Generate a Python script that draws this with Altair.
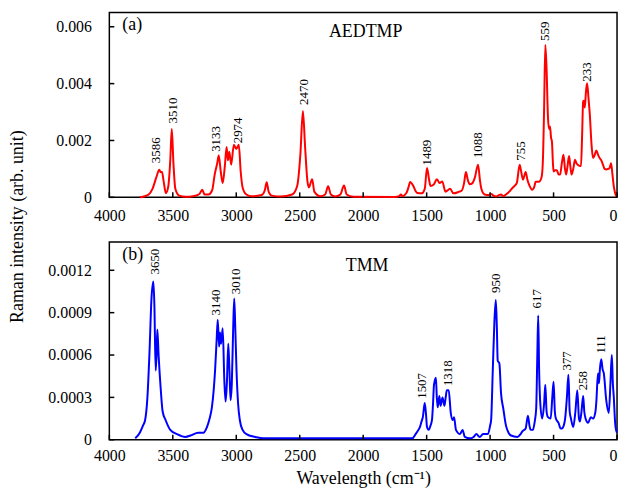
import altair as alt
import pandas as pd

FONT = "Liberation Serif"

# ---------- AEDTMP (a) ----------
A_WN = [3760, 3730, 3690, 3660, 3630, 3606, 3596, 3586, 3570, 3555, 3535, 3520, 3508, 3495, 3480, 3450, 3400,
        3330, 3290, 3268, 3250, 3220, 3190, 3170, 3150, 3138, 3122, 3107, 3090, 3076, 3066, 3055, 3040, 3019,
        3000, 2980, 2965, 2950, 2920, 2880, 2800, 2775, 2760, 2745, 2720, 2650, 2560, 2520, 2495, 2475, 2458,
        2440, 2428, 2402, 2385, 2340, 2300, 2276, 2255, 2220, 2180, 2151, 2130, 2080, 1750, 1717, 1703, 1690,
        1660, 1640, 1631, 1605, 1590, 1574, 1540, 1515, 1497, 1480, 1470, 1444, 1419, 1398, 1377, 1352, 1315,
        1289, 1243, 1225, 1205, 1191, 1175, 1160, 1139, 1120, 1095, 1080, 1069, 1043, 1010, 992, 970, 953, 930,
        914, 895, 875, 849, 830, 810, 790, 767, 755, 741, 720, 705, 694, 668, 650, 642, 616, 595, 585, 575, 565,
        555, 544, 535, 528, 520, 513, 505, 500, 488, 474, 460, 448, 435, 422, 410, 401, 390, 378, 368, 358, 345,
        331, 320, 310, 284, 275, 267, 260, 254, 245, 236, 225, 215, 200, 189, 175, 163, 150, 137, 124, 111, 98,
        85, 70, 59, 47, 36, 26, 15, 5]
A_INT = [0.0, 0.00003, 0.0001, 0.0003, 0.0007, 0.00097, 0.00088, 0.0009, 0.0005, 0.00015, 0.0004, 0.0013, 0.0024,
         0.0012, 0.0003, 0.00006, 0.00002, 0.00005, 0.00012, 0.00027, 0.0001, 0.0001, 0.00025, 0.0008, 0.0012,
         0.00147, 0.0009, 0.0005, 0.0011, 0.00177, 0.0013, 0.0016, 0.00115, 0.00185, 0.0017, 0.00185, 0.0009,
         0.00035, 0.0001, 0.00004, 0.00008, 0.00025, 0.00053, 0.0002, 0.00006, 0.00003, 0.0001, 0.0004, 0.0015,
         0.00304, 0.0018, 0.0006, 0.00035, 0.00064, 0.0002, 0.00004, 0.0001, 0.00039, 0.0001, 0.00003, 0.0001,
         0.00042, 0.0001, 0.00002, 0.00001, 0.00004, 0.0001, 0.00004, 0.00015, 0.0004, 0.00054, 0.0004, 0.00025,
         0.00015, 0.00014, 0.0003, 0.00103, 0.0006, 0.0004, 0.00045, 0.00064, 0.0005, 0.00056, 0.0002, 0.0003,
         0.00014, 0.0002, 0.00023, 0.0005, 0.00089, 0.0006, 0.00046, 0.0005, 0.0007, 0.00115, 0.0006, 0.0003,
         0.0001, 0.00008, 0.00012, 0.00005, 0.00003, 0.00008, 0.0001, 0.00004, 0.0001, 0.0002, 0.0003, 0.00039,
         0.0005, 0.00115, 0.0009, 0.00062, 0.00089, 0.0006, 0.00046, 0.00027, 0.0004, 0.00055, 0.00055, 0.0007,
         0.0012, 0.003, 0.00536, 0.0045, 0.0028, 0.0024, 0.00249, 0.0021, 0.00196, 0.0012, 0.00091, 0.00095,
         0.00095, 0.0008, 0.0008, 0.0012, 0.0015, 0.001, 0.0008, 0.0011, 0.00145, 0.0011, 0.0008, 0.001, 0.00132,
         0.0012, 0.00115, 0.0011, 0.0022, 0.00337, 0.0034, 0.00316, 0.0037, 0.00401, 0.0035, 0.00295, 0.0018,
         0.00138, 0.0015, 0.00165, 0.0015, 0.00138, 0.0013, 0.00115, 0.001, 0.00098, 0.001, 0.00103, 0.0012,
         0.0008, 0.0004, 0.00015, 0.00003]

A_LAB = ["3586", "3510", "3133", "2974", "2470", "1489", "1088", "755", "559", "233"]
A_LAB_X = [3632, 3495, 3159, 2988, 2470, 1497, 1095, 756, 565, 238]
A_LAB_Y = [0.0012, 0.0026, 0.0016, 0.0019, 0.00325, 0.00112, 0.00138, 0.00129, 0.0055, 0.00407]

# ---------- TMM (b) ----------
B_WN = [3796, 3760, 3735, 3718, 3700, 3684, 3668, 3653, 3645, 3635, 3628, 3622, 3612, 3596, 3580, 3557, 3520,
        3466, 3400, 3361, 3300, 3260, 3231, 3210, 3192, 3178, 3167, 3155, 3146, 3135, 3128, 3120, 3107, 3094,
        3084, 3074, 3063, 3054, 3045, 3035, 3024, 3016, 3008, 2998, 2985, 2972, 2950, 2920, 2850, 2790, 1650,
        1613, 1587, 1565, 1553, 1540, 1530, 1515, 1505, 1497, 1484, 1470, 1458, 1450, 1442, 1427, 1420, 1413,
        1400, 1390, 1375, 1360, 1350, 1341, 1326, 1310, 1295, 1284, 1269, 1237, 1217, 1199, 1160, 1130, 1108,
        1082, 1056, 1030, 1017, 1000, 992, 979, 966, 955, 947, 940, 927, 914, 896, 875, 855, 836, 785, 760, 746,
        720, 702, 690, 681, 663, 650, 637, 628, 621, 614, 606, 590, 575, 565, 555, 544, 523, 510, 500, 490, 482,
        461, 445, 435, 420, 409, 395, 383, 373, 363, 345, 328, 313, 300, 292, 280, 267, 258, 248, 228, 207, 189,
        170, 163, 150, 142, 135, 124, 114, 104, 85, 65, 52, 41, 33, 26, 15, 8, 0]
B_INT = [0.00001, 0.00005, 0.0001, 0.00014, 0.0003, 0.00061, 0.001, 0.00112, 0.00095, 0.00049, 0.0006, 0.00078,
         0.0006, 0.00037, 0.0002, 0.00014, 0.00007, 0.00004, 0.00002, 0.00003, 0.00005, 0.00005, 0.00009, 0.00015,
         0.00023, 0.00035, 0.00049, 0.0007, 0.00085, 0.00066, 0.00076, 0.00068, 0.00079, 0.00042, 0.00027, 0.0004,
         0.00068, 0.0005, 0.00028, 0.0004, 0.0008, 0.001, 0.0008, 0.00049, 0.00025, 0.00014, 0.00007, 0.00004,
         0.00002, 0.00001, 0.00001, 0.00001, 0.00004, 0.00007, 0.00009, 0.00013, 0.00016, 0.00026, 0.00018,
         0.00009, 0.00007, 0.0001, 0.00014, 0.00025, 0.00039, 0.00044, 0.0003, 0.00023, 0.00031, 0.00024, 0.0003,
         0.00024, 0.0003, 0.00035, 0.00035, 0.00019, 0.00014, 0.00016, 0.00007, 0.00004, 0.00007, 0.00002,
         0.00001, 0.00002, 0.00004, 0.00002, 0.00004, 0.00004, 0.00004, 0.0001, 0.00014, 0.00049, 0.00084,
         0.00099, 0.0008, 0.00056, 0.00054, 0.00033, 0.00022, 0.0001, 0.00005, 0.00003, 0.00002, 0.00004, 0.00006,
         0.00008, 0.00017, 0.0001, 0.00007, 0.00007, 0.00012, 0.00022, 0.0006, 0.00088, 0.0005, 0.00028, 0.00015,
         0.00025, 0.00039, 0.0002, 0.00016, 0.00015, 0.0003, 0.00041, 0.0002, 0.00015, 0.00012, 0.00008, 0.00008,
         0.0001, 0.00015, 0.0003, 0.00046, 0.0002, 0.00015, 0.00009, 0.0002, 0.00035, 0.00015, 0.00013, 0.0002,
         0.00031, 0.0002, 0.00015, 0.00012, 0.00016, 0.00015, 0.0002, 0.00027, 0.00047, 0.0004, 0.0005, 0.00057,
         0.0005, 0.00047, 0.00028, 0.00019, 0.0004, 0.0006, 0.0004, 0.00031, 0.00012, 0.00007, 0.00005]

B_LAB = ["3650", "3140", "3010", "1507", "1318", "950", "617", "377", "258", "111"]
B_LAB_X = [3640, 3159, 3001, 1535, 1331, 953, 634, 396, 269, 124]
B_LAB_Y = [0.00117, 0.00088, 0.00103, 0.00029, 0.00038, 0.00104, 0.00093, 0.00049, 0.00035, 0.00061]

X_TICKS = [4000, 3500, 3000, 2500, 2000, 1500, 1000, 500, 0]
A_YTICKS = [0, 0.002, 0.004, 0.006]
B_YTICKS = [0, 0.0003, 0.0006, 0.0009, 0.0012]

W = 511
HA = 186
HB = 199


def panel(wn, inten, labs, labx, laby, color, ymax, yticks, fmt, tag, name, h,
          xtitle, ytitle, name_x, name_y, lpad):
    xscale = alt.Scale(domain=[0, 4000], reverse=True, nice=False, zero=False)
    yscale = alt.Scale(domain=[0, ymax], nice=False)
    xaxis_kw = dict(values=X_TICKS, format="d", ticks=False, tickSize=0, domain=False, grid=False,
                    labelPadding=lpad, labelFontSize=16, labelFlush=False,
                    labelAlign={"condition": {"test": "datum.value == 0", "value": "right"}, "value": "center"})
    if xtitle:
        xaxis = alt.Axis(title=xtitle, titlePadding=6, titleFontSize=18, **xaxis_kw)
    else:
        xaxis = alt.Axis(title=None, **xaxis_kw)
    yaxis_kw = dict(values=yticks, ticks=False, tickSize=0, domain=False, grid=False,
                    labelPadding=18, labelFontSize=16,
                    labelExpr="datum.value == 0 ? '0' : format(datum.value, '" + fmt + "')")
    if ytitle:
        yaxis = alt.Axis(title=ytitle, titleX=-83, titleY=215, titleFontSize=18, **yaxis_kw)
    else:
        yaxis = alt.Axis(title=None, **yaxis_kw)

    df = pd.DataFrame({"w": wn, "v": inten})
    line = alt.Chart(df).mark_line(color=color, strokeWidth=2, interpolate="monotone").encode(
        x=alt.X("w:Q", scale=xscale, axis=xaxis),
        y=alt.Y("v:Q", scale=yscale, axis=yaxis),
    )
    ldf = pd.DataFrame({"w": labx, "v": laby, "t": labs})
    lab = alt.Chart(ldf).mark_text(angle=270, align="left", baseline="middle", fontSize=13,
                                   font=FONT, color="black").encode(
        x=alt.X("w:Q", scale=xscale), y=alt.Y("v:Q", scale=yscale), text="t:N")
    xt = alt.Chart(pd.DataFrame({"w": X_TICKS})).mark_rule(color="black", strokeWidth=1.5).encode(
        x=alt.X("w:Q", scale=xscale), y=alt.value(h), y2=alt.value(h - 5))
    yt = alt.Chart(pd.DataFrame({"v": yticks})).mark_rule(color="black", strokeWidth=1.5).encode(
        y=alt.Y("v:Q", scale=yscale), x=alt.value(0), x2=alt.value(5))
    tg = alt.Chart(pd.DataFrame({"t": [tag]})).mark_text(align="left", baseline="middle", fontSize=18,
                                                         font=FONT, color="black").encode(
        x=alt.value(13), y=alt.value(13), text="t:N")
    nm = alt.Chart(pd.DataFrame({"t": [name]})).mark_text(align="left", baseline="middle", fontSize=18,
                                                          font=FONT, color="black").encode(
        x=alt.value(name_x), y=alt.value(name_y), text="t:N")
    return alt.layer(line, lab, xt, yt, tg, nm).properties(width=W, height=h)


top = panel(A_WN, A_INT, A_LAB, A_LAB_X, A_LAB_Y, "#ff0000", 0.0065, A_YTICKS, ".3f",
            "(a)", "AEDTMP", HA, None, "Raman intensity (arb. unit)", 221, 20, 10)
bottom = panel(B_WN, B_INT, B_LAB, B_LAB_X, B_LAB_Y, "#0000ff", 0.0014, B_YTICKS, ".4f",
               "(b)", "TMM", HB, "Wavelength (cm\u207b\u00b9)", None, 238, 24, 8)

chart = alt.vconcat(top, bottom, spacing=45, bounds="flush").properties(
    padding={"left": 0, "top": 2, "right": 0, "bottom": 0}
).configure_view(stroke="black", strokeWidth=1.5).configure_axis(
    labelFont=FONT, titleFont=FONT, labelColor="black", titleColor="black", titleFontWeight="normal"
)

chart.save("out.html", embed_options={"renderer": "svg", "actions": False})
